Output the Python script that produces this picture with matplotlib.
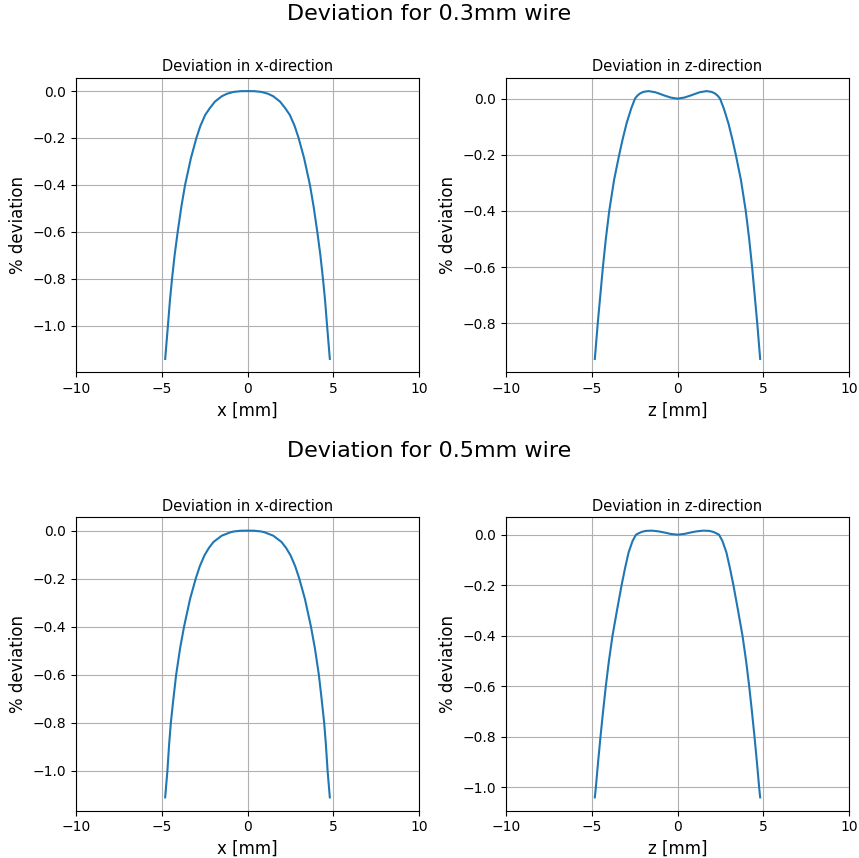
import matplotlib
matplotlib.use("Agg")
import matplotlib.pyplot as plt

# ---- data ----
suptitles = ["Deviation for 0.3mm wire", "Deviation for 0.5mm wire"]
titles = ["Deviation in x-direction", "Deviation in z-direction"]
xlabels = ["x [mm]", "z [mm]"]
ylabel = "% deviation"

# 0.3 mm wire, x-direction
x_03x = [-4.8, -4.64, -4.52, -4.4, -4.25, -4.07, -3.85, -3.64, -3.3, -2.98, -2.75, -2.47, -2.2,
         -1.9, -1.5, -1.2, -0.8, -0.4, 0.0,
         0.4, 0.8, 1.2, 1.5, 1.9, 2.2, 2.47, 2.75, 2.98, 3.3, 3.64, 3.85, 4.07, 4.25, 4.4,
         4.52, 4.64, 4.8]
y_03x = [-1.142, -1.0, -0.89, -0.8, -0.7, -0.6, -0.49, -0.4, -0.286, -0.2, -0.149, -0.102, -0.073,
         -0.045, -0.022, -0.0114, -0.0034, -0.0004, 0.0,
         -0.0004, -0.0034, -0.0114, -0.022, -0.045, -0.073, -0.102, -0.149, -0.2, -0.286, -0.4,
         -0.49, -0.6, -0.7, -0.8, -0.89, -1.0, -1.142]

# 0.3 mm wire, z-direction
x_03z = [-4.82, -4.65, -4.5, -4.35, -4.18, -3.98, -3.7, -3.4, -3.2, -2.97, -2.7, -2.48, -2.35,
         -2.2, -2.0, -1.7, -1.3, -1.02, -0.8, -0.4, 0.0,
         0.4, 0.8, 1.02, 1.3, 1.7, 2.0, 2.2, 2.35, 2.48, 2.7, 2.97, 3.2, 3.4, 3.7, 3.98,
         4.18, 4.35, 4.5, 4.65, 4.82]
y_03z = [-0.927, -0.8, -0.7, -0.6, -0.5, -0.4, -0.29, -0.2, -0.145, -0.088, -0.035, 0.0, 0.01,
         0.018, 0.024, 0.027, 0.023, 0.017, 0.012, 0.004, 0.0,
         0.004, 0.012, 0.017, 0.023, 0.027, 0.024, 0.018, 0.01, 0.0, -0.035, -0.088, -0.145,
         -0.2, -0.29, -0.4, -0.5, -0.6, -0.7, -0.8, -0.927]

# 0.5 mm wire, x-direction
x_05x = [-4.8, -4.67, -4.57, -4.47, -4.32, -4.16, -3.93, -3.7, -3.35, -3.02, -2.78, -2.51, -2.25,
         -1.98, -1.5, -1.0, -0.8, -0.4, 0.0,
         0.4, 0.8, 1.0, 1.5, 1.98, 2.25, 2.51, 2.78, 3.02, 3.35, 3.7, 3.93, 4.16, 4.32, 4.47,
         4.57, 4.67, 4.8]
y_05x = [-1.111, -1.0, -0.89, -0.8, -0.7, -0.6, -0.49, -0.4, -0.285, -0.2, -0.148, -0.103, -0.072,
         -0.047, -0.021, -0.007, -0.0035, -0.0004, 0.0,
         -0.0004, -0.0035, -0.007, -0.021, -0.047, -0.072, -0.103, -0.148, -0.2, -0.285, -0.4,
         -0.49, -0.6, -0.7, -0.8, -0.89, -1.0, -1.111]

# 0.5 mm wire, z-direction
x_05z = [-4.82, -4.76, -4.63, -4.49, -4.34, -4.18, -4.0, -3.79, -3.53, -3.26, -3.05, -2.85, -2.62,
         -2.42, -2.28, -2.09, -1.85, -1.5, -1.1, -0.72, -0.4, 0.0,
         0.4, 0.72, 1.1, 1.5, 1.85, 2.09, 2.28, 2.42, 2.62, 2.85, 3.05, 3.26, 3.53, 3.79, 4.0,
         4.18, 4.34, 4.49, 4.63, 4.76, 4.82]
y_05z = [-1.04, -1.0, -0.9, -0.8, -0.7, -0.6, -0.5, -0.4, -0.3, -0.2, -0.13, -0.07, -0.025,
         0.0, 0.005, 0.011, 0.015, 0.016, 0.013, 0.008, 0.003, 0.0,
         0.003, 0.008, 0.013, 0.016, 0.015, 0.011, 0.005, 0.0, -0.025, -0.07, -0.13, -0.2, -0.3,
         -0.4, -0.5, -0.6, -0.7, -0.8, -0.9, -1.0, -1.04]

xticks = [-10, -5, 0, 5, 10]

# ---- figure ----
W, H = 859, 858
fig = plt.figure(figsize=(W / 100, H / 100), dpi=100)

def px_axes(left, top, right, bottom):
    return fig.add_axes([left / W, 1 - bottom / H, (right - left) / W, (bottom - top) / H])

rows = [
    ((77.7, 372.3), [(x_03x, y_03x), (x_03z, y_03z)]),
    ((517.3, 810.7), [(x_05x, y_05x), (x_05z, y_05z)]),
]
cols = [(76, 419), (506, 849)]
sup_y = [14, 451]

for r, ((top, bottom), series) in enumerate(rows):
    fig.text(0.5, 1 - sup_y[r] / H, suptitles[r], ha="center", va="center", fontsize=16)
    for c, (xs, ys) in enumerate(series):
        ax = px_axes(cols[c][0], top, cols[c][1], bottom)
        ax.plot(xs, ys, color="#1f77b4", lw=1.5)
        ax.set_xlim(-10, 10)
        ax.set_xticks(xticks)
        ax.grid(True)
        ax.set_title(titles[c], fontsize=10.5, pad=4.5)
        ax.set_xlabel(xlabels[c], fontsize=12)
        ax.set_ylabel(ylabel, fontsize=12)
        ax.tick_params(labelsize=10)

fig.savefig("out.png", dpi=100)
